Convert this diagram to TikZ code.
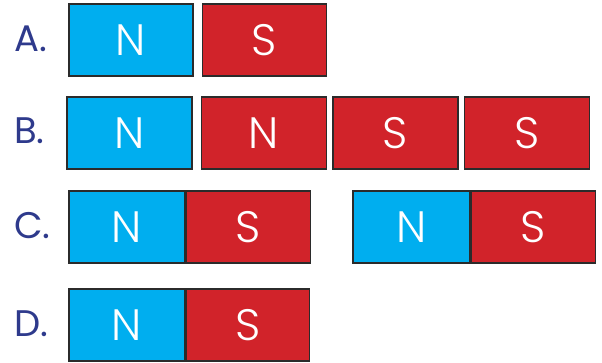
\documentclass[tikz,border=0pt]{standalone}
\usepackage{fontspec}
\setmainfont{Poppins}
\IfFontExistsTF{Poppins Light}
  {\newfontfamily\polefont{Poppins Light}}
  {\newfontfamily\polefont{Poppins}}
\usetikzlibrary{positioning}
\definecolor{northblue}{HTML}{00AEEF}
\definecolor{southred}{HTML}{D1232A}
\definecolor{magnetborder}{HTML}{2B2B2B}
\definecolor{labelnavy}{HTML}{2E3A8C}

\begin{document}
\begin{tikzpicture}[
      x=1pt, y=-1pt,
      pole/.style={draw=magnetborder, line width=1.6pt, inner sep=0pt,
        minimum height=72pt, text=white,
        font=\polefont\fontsize{44}{44}\selectfont},
      northpole/.style={pole, fill=northblue},
      southpole/.style={pole, fill=southred},
      rowlabel/.style={anchor=west, text=labelnavy, inner sep=0pt,
        font=\fontsize{37}{37}\selectfont}
    ]
      \useasboundingbox (0,0) rectangle (602,363);
      % row A
      \node[rowlabel] (la) at (14,39) {A.};
      \node[northpole, anchor=north west, minimum width=124pt] (a1) at (68,3) {N};
      \node[southpole, minimum width=124pt, right=8pt of a1] (a2) {S};
      % row B
      \node[rowlabel] (lb) at (14,131) {B.};
      \node[northpole, anchor=north west, minimum width=125pt] (b1) at (66,96) {N};
      \node[southpole, minimum width=125pt, right=8pt of b1] (b2) {N};
      \node[southpole, minimum width=125pt, right=5pt of b2] (b3) {S};
      \node[southpole, minimum width=125pt, right=5pt of b3] (b4) {S};
      % row C
      \node[rowlabel] (lc) at (14,226) {C.};
      \node[northpole, anchor=north west, minimum width=116pt] (c1) at (68,190) {N};
      \node[southpole, minimum width=124pt, right=0pt of c1] (c2) {S};
      \node[northpole, anchor=north west, minimum width=117pt] (c3) at (352,190) {N};
      \node[southpole, minimum width=124pt, right=0pt of c3] (c4) {S};
      % row D
      \node[rowlabel] (ld) at (14,324) {D.};
      \node[northpole, anchor=north west, minimum width=116pt] (d1) at (68,288) {N};
      \node[southpole, minimum width=123pt, right=0pt of d1] (d2) {S};
    \end{tikzpicture}
\end{document}
